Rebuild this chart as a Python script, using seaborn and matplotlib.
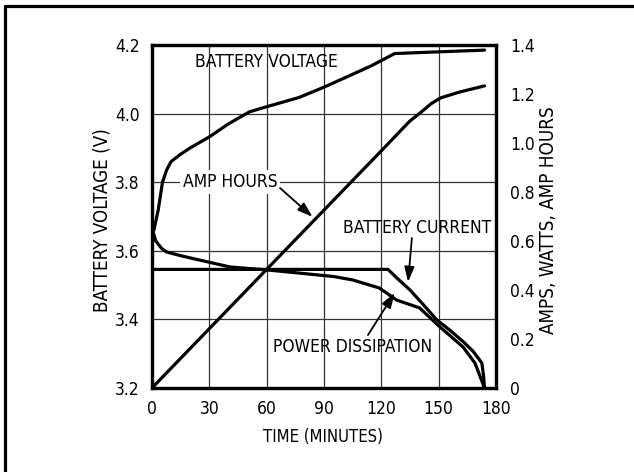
import matplotlib
matplotlib.use('Agg')
import matplotlib.pyplot as plt
import seaborn as sns
from matplotlib.lines import Line2D

# values
volt_t = [1, 3.3, 5.5, 7.7, 10, 14.6, 20, 30, 40, 51, 60, 77, 90, 102, 115, 127, 150, 174]
volt = [3.66, 3.72, 3.80, 3.836, 3.86, 3.88, 3.90, 3.932, 3.97, 4.005, 4.02, 4.047,
        4.077, 4.107, 4.14, 4.175, 4.18, 4.185]

amph_t = [0, 60, 120, 135, 141, 146, 151, 161, 174]
amph = [0, 0.484, 0.968, 1.09, 1.127, 1.16, 1.184, 1.208, 1.233]

curr_t = [0, 123.5, 128, 135, 142, 149, 156, 163, 168, 172.6, 173.5, 174]
curr = [0.484, 0.484, 0.45, 0.40, 0.34, 0.278, 0.235, 0.188, 0.15, 0.102, 0.05, 0.0]

pwr_t = [0, 2, 5, 7.7, 15, 25, 40.8, 60, 77, 95, 105, 119, 128, 140, 150.7, 162.8, 169, 174]
pwr = [0.65, 0.60, 0.57, 0.555, 0.54, 0.522, 0.494, 0.482, 0.469, 0.455, 0.441, 0.408,
       0.359, 0.327, 0.249, 0.167, 0.102, 0.0]

x_ticks = [0, 30, 60, 90, 120, 150, 180]
v_ticks = [3.2, 3.4, 3.6, 3.8, 4.0, 4.2]
a_ticks = [0, 0.2, 0.4, 0.6, 0.8, 1.0, 1.2, 1.4]

sns.set_style('white')
plt.rcParams['font.family'] = ['DejaVu Sans']
plt.rcParams['font.stretch'] = 'condensed'
plt.rcParams['text.color'] = 'black'
plt.rcParams['axes.labelcolor'] = 'black'
plt.rcParams['xtick.color'] = 'black'
plt.rcParams['ytick.color'] = 'black'

fig = plt.figure(figsize=(6.34, 4.72), dpi=100)
ax = fig.add_axes([0.2397, 0.178, 0.5426, 0.7267])
ax2 = ax.twinx()

lw = 2.3
sns.lineplot(x=volt_t, y=volt, ax=ax, color='black', lw=lw, sort=False, estimator=None)
sns.lineplot(x=amph_t, y=amph, ax=ax2, color='black', lw=lw, sort=False, estimator=None)
sns.lineplot(x=curr_t, y=curr, ax=ax2, color='black', lw=lw, sort=False, estimator=None)
sns.lineplot(x=pwr_t, y=pwr, ax=ax2, color='black', lw=lw, sort=False, estimator=None)

ax.set_xlim(0, 180)
ax.set_ylim(3.2, 4.2)
ax2.set_ylim(0, 1.4)
ax.set_xticks(x_ticks)
ax.set_yticks(v_ticks)
ax.set_yticklabels([f'{v:.1f}' for v in v_ticks])
ax2.set_yticks(a_ticks)
ax2.set_yticklabels(['0'] + [f'{v:.1f}' for v in a_ticks[1:]])

ax.grid(True, color='#333333', lw=0.9)
ax2.grid(False)
for a in (ax, ax2):
    for s in a.spines.values():
        s.set_linewidth(2.3)
        s.set_color('black')
ax.tick_params(axis='both', length=0, labelsize=12.5, pad=9)
ax2.tick_params(axis='y', length=0, labelsize=12.5, pad=10)

ax.set_xlabel('TIME (MINUTES)', fontsize=12)
ax.xaxis.set_label_coords(0.497, -0.118)
ax.set_ylabel('BATTERY VOLTAGE (V)', fontsize=13.5)
ax.yaxis.set_label_coords(-0.118, 0.49)
ax2.set_ylabel('AMPS, WATTS, AMP HOURS', fontsize=13.5, rotation=90)
ax2.yaxis.set_label_coords(1.125, 0.49)

# curve labels and arrows
ax.text(60, 4.15, 'BATTERY VOLTAGE', fontsize=12.5, ha='center', va='center')
ax.text(41, 3.8, 'AMP HOURS', fontsize=12.5, ha='center', va='center',
        bbox=dict(facecolor='white', edgecolor='none', pad=2))
ax2.text(139, 0.653, 'BATTERY CURRENT', fontsize=12.5, ha='center', va='center')
ax2.text(105, 0.167, 'POWER DISSIPATION', fontsize=12.5, ha='center', va='center')

arrow = dict(arrowstyle='-|>,head_length=0.9,head_width=0.3', color='black', lw=1.3,
             shrinkA=0, shrinkB=0)
ax.annotate('', xy=(84, 3.699), xytext=(67, 3.783), arrowprops=arrow)
ax2.annotate('', xy=(134, 0.433), xytext=(136, 0.612), arrowprops=arrow)
ax2.annotate('', xy=(127, 0.388), xytext=(113, 0.216), arrowprops=arrow)

# outer frame (top and left edges only)
fig.add_artist(Line2D([0.008, 1.0], [0.987, 0.987], transform=fig.transFigure, color='black', lw=2.3))
fig.add_artist(Line2D([0.008, 0.008], [0.0, 0.987], transform=fig.transFigure, color='black', lw=2.3))

fig.savefig('out.png', dpi=100)
